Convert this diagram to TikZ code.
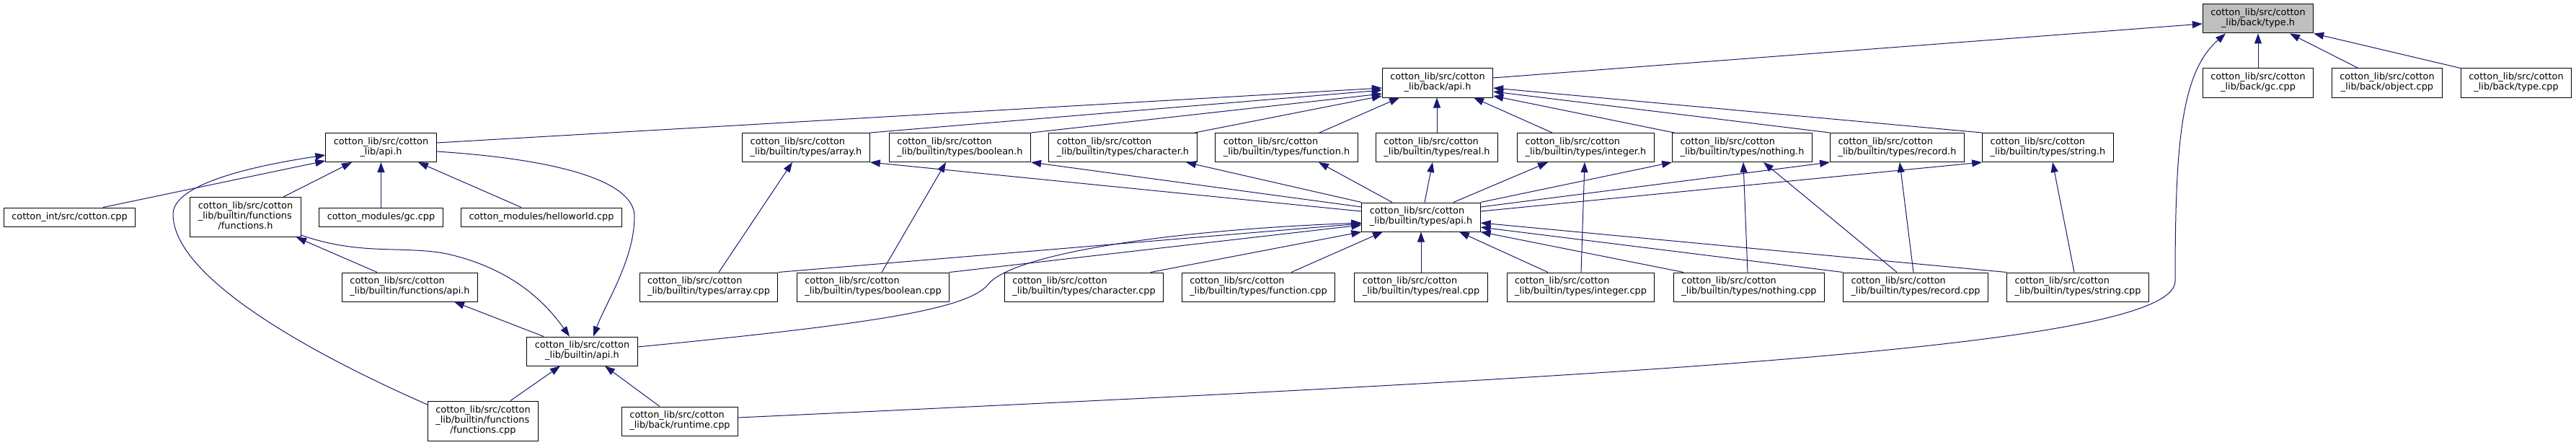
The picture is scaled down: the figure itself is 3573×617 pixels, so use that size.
\documentclass[tikz,border=0pt]{standalone}
\usepackage{fontspec}
\newfontfamily\doxfont{DejaVu Sans}
\usetikzlibrary{arrows.meta}

\definecolor{midnight}{HTML}{191970}
\definecolor{grey75}{HTML}{BFBFBF}
\newcommand{\dox}{\doxfont\fontsize{9.65}{10.5}\selectfont}
\newcommand{\cotlib}{cotton\_lib/src/cotton}
% Doxygen labels: upper lines flush left, last line centred
\newcommand{\twoline}[2]{\begin{tabular}{@{}l@{}}#1\\\multicolumn{1}{@{}c@{}}{#2}\end{tabular}}
\newcommand{\threeline}[3]{\begin{tabular}{@{}l@{}}#1\\#2\\\multicolumn{1}{@{}c@{}}{#3}\end{tabular}}

\begin{document}
\begin{tikzpicture}[
  x=0.75pt, y=-0.75pt,
  file/.style={draw=black, fill=white, line width=0.75pt, font=\dox,
    inner xsep=8.25pt, inner ysep=0pt, minimum height=30pt},
  oneline/.style={file, minimum height=19.5pt},
  tallbox/.style={file, minimum height=41.25pt},
  current/.style={file, fill=grey75},
  dep/.style={-{Triangle[length=10.5pt, width=7.5pt]}, draw=midnight,
    fill=none, line width=0.75pt}
]
\useasboundingbox (0,0) rectangle (3573,617);

% Top rows
\node[current] (typeh) at (3132,26) {\twoline{\cotlib}{\_lib/back/type.h}};
\node[file] (backapi) at (1994,115) {\twoline{\cotlib}{\_lib/back/api.h}};
\node[file] (backgc) at (3132,115) {\twoline{\cotlib}{\_lib/back/gc.cpp}};
\node[file] (backobject) at (3311,115) {\twoline{\cotlib}{\_lib/back/object.cpp}};
\node[file] (backtype) at (3490,115) {\twoline{\cotlib}{\_lib/back/type.cpp}};

% Headers
\node[file] (libapi) at (528.5,204.5) {\twoline{\cotlib}{\_lib/api.h}};
\node[file] (arrayh) at (1118,204.5) {\twoline{\cotlib}{\_lib/builtin/types/array.h}};
\node[file] (booleanh) at (1331.5,204.5) {\twoline{\cotlib}{\_lib/builtin/types/boolean.h}};
\node[file] (characterh) at (1557.5,204.5) {\twoline{\cotlib}{\_lib/builtin/types/character.h}};
\node[file] (functionh) at (1784.5,204.5) {\twoline{\cotlib}{\_lib/builtin/types/function.h}};
\node[file] (realh) at (1993,204.5) {\twoline{\cotlib}{\_lib/builtin/types/real.h}};
\node[file] (integerh) at (2199.5,204.5) {\twoline{\cotlib}{\_lib/builtin/types/integer.h}};
\node[file] (nothingh) at (2416.5,204.5) {\twoline{\cotlib}{\_lib/builtin/types/nothing.h}};
\node[file] (recordh) at (2631.5,204.5) {\twoline{\cotlib}{\_lib/builtin/types/record.h}};
\node[file] (stringh) at (2840.5,204.5) {\twoline{\cotlib}{\_lib/builtin/types/string.h}};

% Middle row
\node[oneline] (cottoncpp) at (96.5,301) {cotton\_int/src/cotton.cpp};
\node[tallbox] (functionsh) at (340.5,301) {\threeline{\cotlib}{\_lib/builtin/functions}{/functions.h}};
\node[oneline] (modgc) at (528.5,301) {cotton\_modules/gc.cpp};
\node[oneline] (hello) at (751,301) {cotton\_modules/helloworld.cpp};
\node[file] (typesapi) at (1971,301) {\twoline{\cotlib}{\_lib/builtin/types/api.h}};

% Sources
\node[file] (funcapi) at (568.5,398) {\twoline{\cotlib}{\_lib/builtin/functions/api.h}};
\node[file] (arraycpp) at (983,398) {\twoline{\cotlib}{\_lib/builtin/types/array.cpp}};
\node[file] (booleancpp) at (1211,398) {\twoline{\cotlib}{\_lib/builtin/types/boolean.cpp}};
\node[file] (charactercpp) at (1503.5,398) {\twoline{\cotlib}{\_lib/builtin/types/character.cpp}};
\node[file] (functioncpp) at (1745.5,398) {\twoline{\cotlib}{\_lib/builtin/types/function.cpp}};
\node[file] (realcpp) at (1971,398) {\twoline{\cotlib}{\_lib/builtin/types/real.cpp}};
\node[file] (integercpp) at (2192.5,398) {\twoline{\cotlib}{\_lib/builtin/types/integer.cpp}};
\node[file] (nothingcpp) at (2426,398) {\twoline{\cotlib}{\_lib/builtin/types/nothing.cpp}};
\node[file] (recordcpp) at (2657,398) {\twoline{\cotlib}{\_lib/builtin/types/record.cpp}};
\node[file] (stringcpp) at (2882,398) {\twoline{\cotlib}{\_lib/builtin/types/string.cpp}};

% Bottom rows
\node[file] (builtinapi) at (807.5,487) {\twoline{\cotlib}{\_lib/builtin/api.h}};
\node[tallbox] (functionscpp) at (670,583.5) {\threeline{\cotlib}{\_lib/builtin/functions}{/functions.cpp}};
\node[file] (runtimecpp) at (943,584) {\twoline{\cotlib}{\_lib/back/runtime.cpp}};

% Into type.h
\draw[dep] (backapi.east |- 0,108) -- (typeh.west |- 0,33);
\draw[dep] (backgc) -- (typeh);
\draw[dep] (backobject.north -| 3271,0) -- (typeh.south -| 3176,0);
\draw[dep] (backtype.north west) -- (typeh.south east);
\draw[dep] (runtimecpp.east |- 0,579) .. controls (2300,520) and (3015,480) .. (3017,390)
  .. controls (3017,200) and (3025,100) .. (typeh.south -| 3087,0);

% Into back/api.h
\draw[dep] (libapi.east |- 0,198) -- (backapi.west |- 0,122);
\draw[dep] (arrayh.north east) -- (backapi.west |- 0,125);
\draw[dep] (booleanh.north east) -- (backapi.west |- 0,130);
\draw[dep] (characterh.north -| 1657,0) -- (backapi.west |- 0,133);
\draw[dep] (functionh.north -| 1830,0) -- (backapi.south -| 1941,0);
\draw[dep] (realh.north -| 1993,0) -- (backapi.south -| 1993,0);
\draw[dep] (integerh.north -| 2153,0) -- (backapi.south -| 2044,0);
\draw[dep] (nothingh.north -| 2322,0) -- (backapi.east |- 0,133);
\draw[dep] (recordh.north west) -- (backapi.east |- 0,127);
\draw[dep] (stringh.north west) -- (backapi.east |- 0,122);

% Into lib/api.h
\draw[dep] (cottoncpp.north -| 143,0) -- (libapi.west |- 0,223);
\draw[dep] (functionscpp.west |- 0,561) .. controls (442,495) and (240,387) .. (240,297)
  .. controls (240,255) and (351,230) .. (libapi.west |- 0,215);
\draw[dep] (functionsh.north -| 393,0) -- (libapi.south -| 488,0);
\draw[dep] (modgc) -- (libapi);
\draw[dep] (hello.north -| 723,0) -- (libapi.south -| 580,0);

% Builtin and functions headers
\draw[dep] (libapi.east |- 0,210) .. controls (790,222) and (880,255) .. (880,300)
  .. controls (880,360) and (840,420) .. (builtinapi.north -| 823,0);
\draw[dep] (functionsh.east |- 0,326) .. controls (500,355) and (560,340) .. (620,352)
  .. controls (700,370) and (750,410) .. (builtinapi.north -| 790,0);
\draw[dep] (funcapi.north -| 523,0) -- (functionsh.south -| 411,0);
\draw[dep] (builtinapi.north -| 754,0) -- (funcapi.south -| 630,0);
\draw[dep] (functionscpp.north -| 708,0) -- (builtinapi.south -| 777,0);
\draw[dep] (runtimecpp.north -| 915,0) -- (builtinapi.south -| 839,0);

% Out of types/api.h
\draw[dep] (builtinapi.east |- 0,481) .. controls (1200,450) and (1340,430) .. (1370,395)
  .. controls (1400,355) and (1600,320) .. (typesapi.west |- 0,309);
\draw[dep] (typesapi.west |- 0,293) -- (arrayh.south east);
\draw[dep] (typesapi.west |- 0,287) -- (booleanh.south east);
\draw[dep] (typesapi.north west) -- (characterh.south -| 1645,0);
\draw[dep] (typesapi.north -| 1931,0) -- (functionh.south -| 1829,0);
\draw[dep] (typesapi.north -| 1976,0) -- (realh.south -| 1987,0);
\draw[dep] (typesapi.north -| 2016,0) -- (integerh.south -| 2147,0);
\draw[dep] (typesapi.north east) -- (nothingh.south west);
\draw[dep] (typesapi.east |- 0,287) -- (recordh.south west);
\draw[dep] (typesapi.east |- 0,293) -- (stringh.south west);

% Into types/api.h
\draw[dep] (arraycpp.north east) -- (typesapi.west |- 0,310);
\draw[dep] (booleancpp.north east) -- (typesapi.west |- 0,312);
\draw[dep] (charactercpp.north -| 1596,0) -- (typesapi.south west);
\draw[dep] (functioncpp.north -| 1791,0) -- (typesapi.south -| 1918,0);
\draw[dep] (realcpp.north -| 1971,0) -- (typesapi.south -| 1971,0);
\draw[dep] (integercpp.north -| 2147,0) -- (typesapi.south -| 2024,0);
\draw[dep] (nothingcpp.north -| 2335,0) -- (typesapi.south east);
\draw[dep] (recordcpp.north west) -- (typesapi.east |- 0,315);
\draw[dep] (stringcpp.north west) -- (typesapi.east |- 0,309);

% Sources to their own headers
\draw[dep] (arraycpp.north -| 997,0) -- (arrayh.south -| 1099,0);
\draw[dep] (booleancpp.north -| 1223,0) -- (booleanh.south -| 1312,0);
\draw[dep] (integercpp.north -| 2193,0) -- (integerh.south -| 2198,0);
\draw[dep] (nothingcpp.north -| 2424,0) -- (nothingh.south -| 2418,0);
\draw[dep] (recordcpp.north -| 2631,0) -- (nothingh.south -| 2446,0);
\draw[dep] (recordcpp.north -| 2654,0) -- (recordh.south -| 2635,0);
\draw[dep] (stringcpp.north -| 2877,0) -- (stringh.south -| 2847,0);

\end{tikzpicture}
\end{document}
